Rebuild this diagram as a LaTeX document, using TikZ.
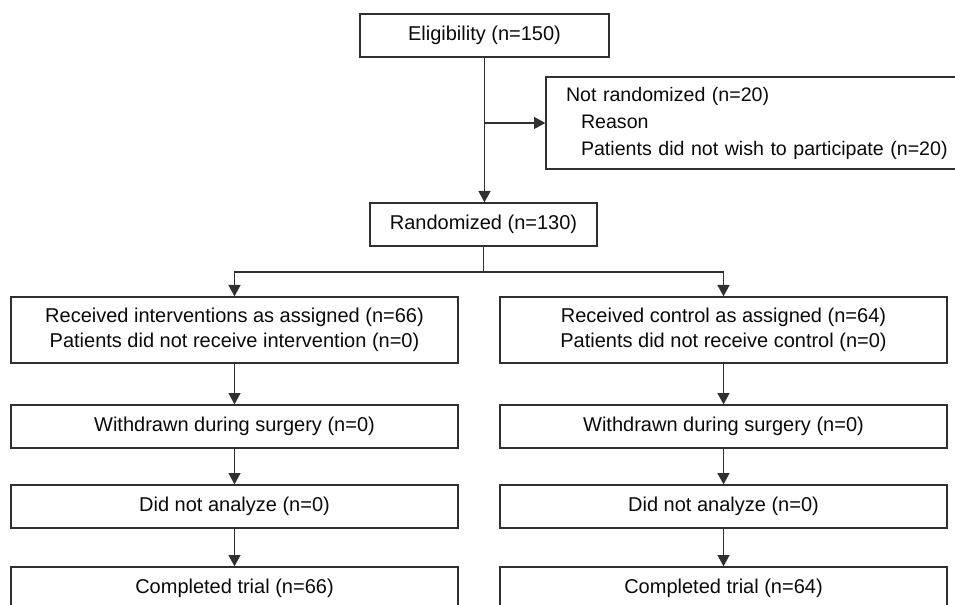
\documentclass[tikz,border=0pt]{standalone}
\usepackage{fontspec}
\setmainfont{Liberation Sans}
\usetikzlibrary{arrows.meta}
\definecolor{linegray}{HTML}{303030}
\definecolor{txt}{HTML}{0A0A0A}
\begin{document}
\begin{tikzpicture}[x=0.75pt,y=-0.75pt,
  box/.style={draw=linegray, line width=1pt, inner sep=0pt, align=center,
    text=txt, font=\fontsize{15pt}{19pt}\selectfont},
  arr/.style={draw=linegray, line width=1pt, -{Triangle[length=8.5pt,width=9pt]}},
  ln/.style={draw=linegray, line width=1pt}]
\useasboundingbox (0,0) rectangle (955,605);
\fill[white] (0,0) rectangle (955,605);
\clip (0,0) rectangle (955,605);

\node[box, minimum width=186.75pt, minimum height=32.25pt] (elig) at (484.5,35.5) {Eligibility (n=150)};
\node[box, minimum width=330pt, minimum height=69pt, inner xsep=15pt, text width=300pt, align=left,
  font=\fontsize{14.7pt}{20.25pt}\selectfont] (nr) at (766,123)
  {Not randomized (n=20)\\\hspace*{11.25pt}Reason\\\hspace*{11.25pt}Patients did not wish to participate (n=20)};
\node[box, minimum width=170.25pt, minimum height=32.25pt] (rand) at (483.5,224.5) {Randomized (n=130)};

\node[box, minimum width=335.25pt, minimum height=49.5pt] (l1) at (234.5,330) {Received interventions as assigned (n=66)\\Patients did not receive intervention (n=0)};
\node[box, minimum width=335.25pt, minimum height=49.5pt] (r1) at (723.5,330) {Received control as assigned (n=64)\\Patients did not receive control (n=0)};

\node[box, minimum width=335.25pt, minimum height=32.25pt] (l2) at (234.5,426.5) {Withdrawn during surgery (n=0)};
\node[box, minimum width=335.25pt, minimum height=32.25pt] (r2) at (723.5,426.5) {Withdrawn during surgery (n=0)};

\node[box, minimum width=335.25pt, minimum height=32.25pt] (l3) at (234.5,506.5) {Did not analyze (n=0)};
\node[box, minimum width=335.25pt, minimum height=32.25pt] (r3) at (723.5,506.5) {Did not analyze (n=0)};

\node[box, minimum width=335.25pt, minimum height=32.25pt] (l4) at (234.5,588.5) {Completed trial (n=66)};
\node[box, minimum width=335.25pt, minimum height=32.25pt] (r4) at (723.5,588.5) {Completed trial (n=64)};

\coordinate (br) at (elig.south |- nr.west);
\coordinate (split) at (rand.south |- 0,272);

\draw[arr] (elig.south) -- (elig.south |- rand.north);
\draw[arr] (br) -- (nr.west);
\draw[ln] (rand.south) -- (split);
\draw[arr] (split) -| (l1.north);
\draw[arr] (split) -| (r1.north);

\draw[arr] (l1) -- (l2);
\draw[arr] (l2) -- (l3);
\draw[arr] (l3) -- (l4);
\draw[arr] (r1) -- (r2);
\draw[arr] (r2) -- (r3);
\draw[arr] (r3) -- (r4);
\end{tikzpicture}
\end{document}
